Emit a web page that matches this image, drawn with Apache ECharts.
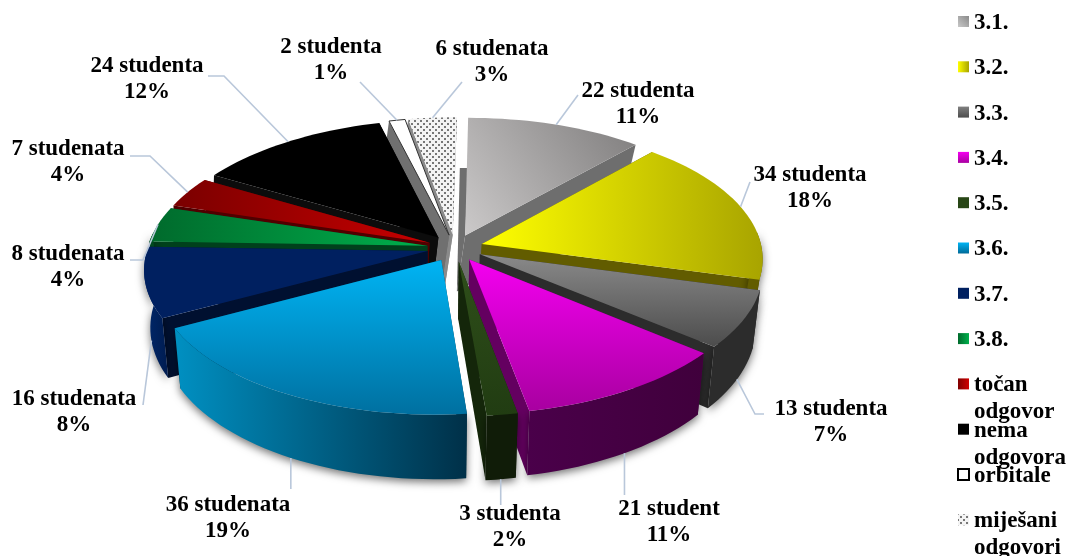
<!DOCTYPE html>
<html><head><meta charset="utf-8">
<style>html,body{margin:0;padding:0;background:#fff}#c{width:1069px;height:556px}</style>
<script src="https://cdn.jsdelivr.net/npm/echarts@6/dist/echarts.min.js"></script>
</head><body><div id="c"></div>
<script>
// ---- data ----
const categories = ['3.1.','3.2.','3.3.','3.4.','3.5.','3.6.','3.7.','3.8.','točan\nodgovor','nema\nodgovora','orbitale','miješani\nodgovori'];
const values = [22,34,13,21,3,36,16,8,7,24,2,6];
const labelNames = ['22 studenta','34 studenta','13 studenta','21 student','3 studenta','36 studenata','16 studenata','8 studenata','7 studenata','24 studenta','2 studenta','6 studenata'];
const labelPercents = ['11%','18%','7%','11%','2%','19%','8%','4%','4%','12%','1%','3%'];

// ---- label layout: [centre x, first line y] and leader waypoints (null x = straight down) ----
const labelPos = [[638,91],[810,175],[831,409],[669,509],[510,514],[228,505],[74,399],[68,254],[68,149],[147,66],[331,47],[492,49]];
const leaderEnds = [[[578,95]],[[750,182]],[[755,414],[764,414]],[[null,495]],[[null,505]],[[null,489]],[[143,405]],[[143,260],[130,260]],[[150,156],[130,156]],[[224,76],[208,76]],[[360,82]],[[462,82]]];

// ---- projection constants ----
const CX=455, CY=248, RX=280, RY=134, K=0.115, DEPTH=56.5, VX=430, SHR=0.022, EXPLODE=0.1, SHEAR=4, BACKSHIFT=8;
const FONT='bold 23px "Liberation Serif","Times New Roman",serif';

function lin(h,a,b){return {type:'linear',x:0,y:0,x2:h?1:0,y2:h?0:1,colorStops:[{offset:0,color:a},{offset:1,color:b}]};}
function diag(a,b){return {type:'linear',x:0,y:1,x2:1,y2:0,colorStops:[{offset:0,color:a},{offset:1,color:b}]};}
function dotted(){const c=document.createElement('canvas');c.width=6;c.height=6;const g=c.getContext('2d');
  g.fillStyle='#f4f4f4';g.fillRect(0,0,6,6);g.fillStyle='#777';g.fillRect(0,0,2,2);g.fillRect(3,3,2,2);return c;}
const dotPat={image:dotted(),repeat:'repeat'};

const topFill=[diag('#cbc9c9','#7f7d7d'),lin(1,'#ffff00','#a8a400'),lin(0,'#8a8a8a','#4c4c4c'),lin(0,'#f400f0','#a800a0'),lin(0,'#2f4f1a','#213c12'),
  lin(0,'#00b4f4','#0070a0'),lin(0,'#002060','#002060'),lin(1,'#006a2c','#00b04c'),lin(1,'#7a0000','#c80000'),'#000000','#ffffff',dotPat];
const wallFill=['#6a6a6a','#625c00','#2c2c2c',lin(1,'#4a004a','#40003c'),'#101c08',lin(1,'#0090c2','#003048'),lin(1,'#00286c','#001c50'),'#004a20','#600000','#0a0a0a','#6e6e6e','#808080'];
const sideFill=['#6e6e6e','#625c00','#2c2c2c','#640060','#14260a','#003a50','#001030','#00401c','#500000','#0c0c0c','#707070','#8a8a8a'];
const legendFill=[diag('#c8c8c8','#8a8a8a'),lin(1,'#ffff00','#a8a400'),lin(0,'#808080','#4c4c4c'),lin(0,'#f400f0','#a800a0'),'#284616',lin(0,'#00b4f4','#006a98'),'#002060',lin(1,'#006a2c','#00b04c'),lin(1,'#800000','#d00000'),'#000000','#ffffff',dotPat];

const total=values.reduce((a,b)=>a+b,0);
const slices=[];let acc=0;
values.forEach((v,i)=>{const a0=acc/total*2*Math.PI;acc+=v;const a1=acc/total*2*Math.PI;slices.push({i,a0,a1,b:(a0+a1)/2});});
const drawOrder=slices.slice().sort((p,q)=>(-Math.cos(p.b))-(-Math.cos(q.b))).map(s=>s.i);

function proj(s,a,r,z){
  const X=EXPLODE*Math.sin(s.b)+r*Math.sin(a), Y=-(EXPLODE*Math.cos(s.b)+r*Math.cos(a));
  const p=1/(1-K*Y);
  let x=CX+RX*X*p-SHEAR*Y, y=CY+RY*Y*p+z*DEPTH*p;
  if(z) x=VX+(x-VX)*(1-SHR)-BACKSHIFT*Math.max(0,Math.cos(s.b));
  return [x,y];
}
function arc(s,a0,a1,z){const n=Math.max(2,Math.ceil((a1-a0)/(Math.PI/90)));const o=[];for(let j=0;j<=n;j++)o.push(proj(s,a0+(a1-a0)*j/n,1,z));return o;}

function renderSlice(params,api){
  const s=slices[api.value(1)], i=s.i, ch=[];
  const shadow={shadowBlur:8,shadowColor:'rgba(0,0,0,.55)',shadowOffsetX:0,shadowOffsetY:3};
  const faces=[s.a0,s.a1].sort((u,v)=>Math.cos(v)-Math.cos(u));
  faces.forEach(a=>{
    const outerTop=proj(s,a,1,0), outerBot=proj(s,a,1,1);
    // the rear face of the first slice shows as a flat-topped strip behind it
    const corner=(i===0&&a===s.a0)?[outerTop[0],outerBot[1]]:outerTop;
    ch.push({type:'polygon',shape:{points:[proj(s,0,0,0),corner,outerBot,proj(s,0,0,1)]},style:{fill:sideFill[i]}});
  });
  const lo=Math.max(s.a0,Math.PI*0.47), hi=Math.min(s.a1,Math.PI*1.53);
  if(hi>lo){
    const pts=arc(s,lo,hi,0).concat(arc(s,lo,hi,1).reverse());
    ch.push({type:'polygon',shape:{points:pts},style:Object.assign({fill:wallFill[i]},shadow)});
  }
  ch.push({type:'polygon',shape:{points:[proj(s,0,0,0)].concat(arc(s,s.a0,s.a1,0))},
    style:i===10?{fill:'#fff',stroke:'#333',lineWidth:1}:{fill:topFill[i]}});
  return {type:'group',children:ch};
}
function renderLeader(params,api){
  const i=api.value(0), s=slices[i];
  const front=Math.cos(s.b)<0.05;
  const start=proj(s,s.b,1,front?1:0);
  const way=leaderEnds[i].map(p=>[p[0]===null?start[0]:p[0],p[1]]);
  return {type:'polyline',shape:{points:[start].concat(way)},style:{fill:'none',stroke:'#b9c7da',lineWidth:1.6}};
}
function renderLabel(params,api){
  const i=api.value(0), lp=labelPos[i];
  return {type:'group',children:[
    {type:'text',style:{text:labelNames[i],x:lp[0],y:lp[1],align:'center',verticalAlign:'middle',font:FONT,fill:'#000'}},
    {type:'text',style:{text:labelPercents[i],x:lp[0],y:lp[1]+26.5,align:'center',verticalAlign:'middle',font:FONT,fill:'#000'}}
  ]};
}
function renderLegend(params,api){
  const i=api.value(0), y=23+i*45.3, lines=categories[i].split('\n'), ch=[];
  const st=i===10?{fill:'#fff',stroke:'#000',lineWidth:2}:{fill:legendFill[i]};
  ch.push({type:'rect',shape:{x:958,y:y-7,width:11,height:11},style:st});
  lines.forEach((t,n)=>ch.push({type:'text',style:{text:t,x:974,y:y+n*27,align:'left',verticalAlign:'middle',font:FONT,fill:'#000'}}));
  return {type:'group',children:ch};
}
const chart=echarts.init(document.getElementById('c'),null,{renderer:'canvas'});
const rows=names=>values.map((v,i)=>({name:names[i],value:[i,v]}));
chart.setOption({animation:false,backgroundColor:'#fff',tooltip:{show:false},series:[
  {type:'custom',name:'legend',coordinateSystem:'none',renderItem:renderLegend,silent:true,clip:false,z:1,data:rows(categories)},
  {type:'custom',name:'labels',coordinateSystem:'none',renderItem:renderLabel,silent:true,clip:false,z:2,data:rows(labelNames)},
  {type:'custom',name:'studenti',coordinateSystem:'none',renderItem:renderSlice,silent:true,clip:false,z:3,
    data:drawOrder.map(i=>({name:categories[i],value:[values[i],i]}))},
  {type:'custom',name:'leaders',coordinateSystem:'none',renderItem:renderLeader,silent:true,clip:false,z:4,data:rows(labelNames)}
]});
</script></body></html>
